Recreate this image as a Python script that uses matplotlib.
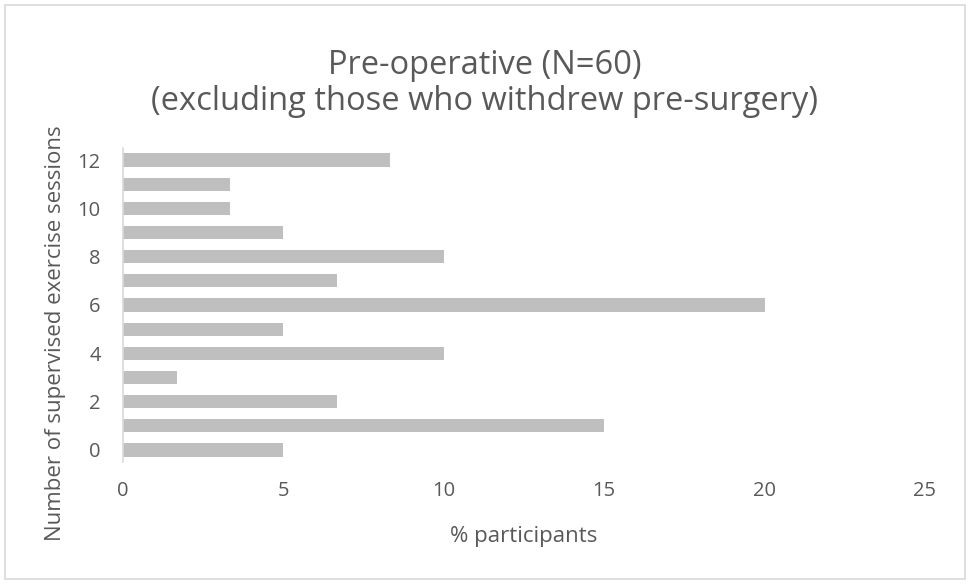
import matplotlib.pyplot as plt
from matplotlib.patches import Rectangle

plt.rcParams['font.family'] = ['Open Sans', 'DejaVu Sans']

sessions = list(range(13))
pct = [5, 15, 6.67, 1.67, 10, 5, 20, 6.67, 10, 5, 3.33, 3.33, 8.33]
xticks = [0, 5, 10, 15, 20, 25]
yticks = [0, 2, 4, 6, 8, 10, 12]

grey_text = "#595959"

fig = plt.figure(figsize=(9.7, 5.84), dpi=100)
ax = fig.add_axes([0.1268, 0.2089, 0.8268, 0.5377])

ax.barh(sessions, pct, height=0.55, color="#BFBFBF")

ax.set_xlim(0, 25)
ax.set_ylim(-0.5, 12.5)
ax.set_xticks(xticks)
ax.set_yticks(yticks)
ax.tick_params(length=0, labelsize=14.5, colors=grey_text)
ax.tick_params(axis='y', pad=16)
ax.tick_params(axis='x', pad=14)
for s in ['top', 'right', 'bottom']:
    ax.spines[s].set_visible(False)
ax.spines['left'].set_color("#D9D9D9")
ax.spines['left'].set_linewidth(1.2)

fig.text(0.5, 0.887, "Pre-operative (N=60)", ha='center', va='center',
         fontsize=23.5, color=grey_text)
fig.text(0.5, 0.826, "(excluding those who withdrew pre-surgery)", ha='center',
         va='center', fontsize=23.5, color=grey_text)
fig.text(0.540, 0.082, "% participants", ha='center', va='center',
         fontsize=16, color=grey_text)
fig.text(0.057, 0.43, "Number of supervised exercise sessions", ha='center',
         va='center', rotation=90, fontsize=16, color=grey_text)

# outer chart border
fig.patches.append(Rectangle((0.005, 0.008), 0.99, 0.984, transform=fig.transFigure,
                             fill=False, edgecolor="#D9D9D9", linewidth=1.2))

plt.savefig("out.png")
